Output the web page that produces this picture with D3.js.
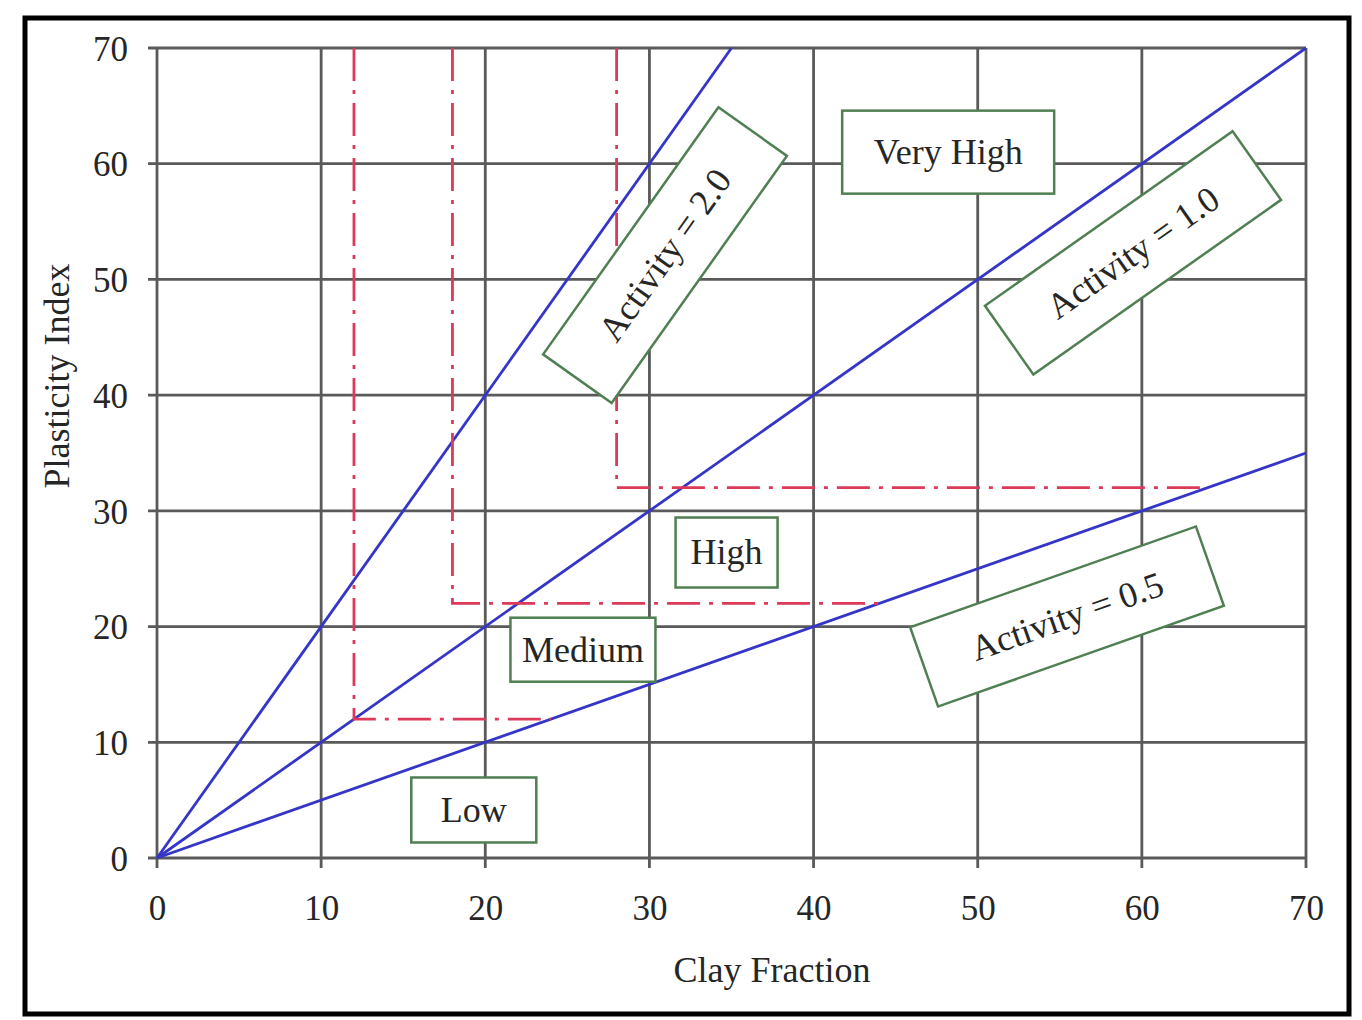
<!DOCTYPE html>
<html>
<head>
<meta charset="utf-8">
<script src="https://cdn.jsdelivr.net/npm/d3@7"></script>
<style>
  html, body { margin: 0; padding: 0; background: #fff; }
  svg { display: block; font-family: "Liberation Serif", "DejaVu Serif", serif; }
</style>
</head>
<body>
<div id="chart"></div>
<script>
// DATA
const xTicks = [0, 10, 20, 30, 40, 50, 60, 70]
const yTicks = [0, 10, 20, 30, 40, 50, 60, 70]
const activities = [2.0, 1.0, 0.5]
const activityNames = ["Activity = 2.0", "Activity = 1.0", "Activity = 0.5"]
// activity class boundaries (red dash-dot): vertical at x, turns at y, ends on A = 0.5 line
const boundX = [12, 18, 28]
const boundY = [12, 22, 32]
const boundEndX = [24, 44, 64]
const classNames = ["Low", "Medium", "High", "Very High"]

// LAYOUT (label anchors in data units, box sizes in px)
const classLabelAt = [[19.3, 4.15], [25.95, 18.0], [34.7, 26.4], [48.2, 61.0]]
const classBox = [[125, 65], [145, 64], [102, 70], [212, 83]]
const activityLabelAt = [[30.95, 52.1], [59.46, 52.3], [55.44, 20.87]]

const W = 1362, H = 1020
const x = d3.scaleLinear().domain([0, 70]).range([157, 1306])
const y = d3.scaleLinear().domain([0, 70]).range([858, 48])
const textColor = "#262626"

const svg = d3.select("#chart").append("svg")
    .attr("width", W)
    .attr("height", H)

// outer frame
svg.append("rect")
    .attr("x", 25).attr("y", 18)
    .attr("width", 1324).attr("height", 996)
    .attr("fill", "none")
    .attr("stroke", "#000")
    .attr("stroke-width", 5)

// grid
const grid = svg.append("g").attr("stroke", "#5a5a5a").attr("stroke-width", 2.8)
grid.selectAll("line.v").data(xTicks).join("line")
    .attr("class", "v")
    .attr("x1", d => x(d)).attr("x2", d => x(d))
    .attr("y1", y(0) + 10).attr("y2", y(70))
grid.selectAll("line.h").data(yTicks).join("line")
    .attr("class", "h")
    .attr("x1", x(0) - 9).attr("x2", x(70))
    .attr("y1", d => y(d)).attr("y2", d => y(d))

// axes (labels only, ticks are drawn with the grid)
const xAxis = svg.append("g")
    .attr("transform", `translate(0,${y(0)})`)
    .call(d3.axisBottom(x).tickValues(xTicks).tickSize(10).tickPadding(27))
const yAxis = svg.append("g")
    .attr("transform", `translate(${x(0)},0)`)
    .call(d3.axisLeft(y).tickValues(yTicks).tickSize(9).tickPadding(20))
for (const a of [xAxis, yAxis]) {
    a.select(".domain").remove()
    a.selectAll(".tick line").remove()
    a.selectAll("text")
        .attr("fill", textColor)
        .style("font-size", "35px")
        .style("font-family", "Liberation Serif")
}
yAxis.selectAll("text").attr("dy", "0.35em")

svg.append("text")
    .attr("x", 772).attr("y", 982)
    .attr("text-anchor", "middle")
    .attr("fill", textColor)
    .style("font-size", "36px")
    .text("Clay Fraction")
svg.append("text")
    .attr("transform", `translate(69,376) rotate(-90)`)
    .attr("text-anchor", "middle")
    .attr("fill", textColor)
    .style("font-size", "36px")
    .text("Plasticity Index")

// activity lines
const line = d3.line().x(d => x(d[0])).y(d => y(d[1]))
svg.append("g")
    .selectAll("path")
    .data(activities)
    .join("path")
    .attr("d", a => line([[0, 0], [Math.min(70, 70 / a), Math.min(70, 70 / a) * a]]))
    .attr("fill", "none")
    .attr("stroke", "#3535c8")
    .attr("stroke-width", 2.8)

// class boundaries
svg.append("g")
    .selectAll("path")
    .data(boundX.map((bx, i) => [[bx, 70], [bx, boundY[i]], [boundEndX[i], boundY[i]]]))
    .join("path")
    .attr("d", line)
    .attr("fill", "none")
    .attr("stroke", "#dc3a58")
    .attr("stroke-width", 2.8)
    .attr("stroke-dasharray", "33,9,4,9")

// boxed labels
function boxLabel(g, w, h, txt) {
    g.append("rect")
        .attr("x", -w / 2).attr("y", -h / 2)
        .attr("width", w).attr("height", h)
        .attr("fill", "#fff")
        .attr("stroke", "#4f7f52")
        .attr("stroke-width", 2.5)
    g.append("text")
        .attr("text-anchor", "middle")
        .attr("dy", "0.33em")
        .attr("fill", textColor)
        .style("font-size", "36px")
        .text(txt)
}

classNames.forEach((name, i) => {
    const g = svg.append("g")
        .attr("transform", `translate(${x(classLabelAt[i][0])},${y(classLabelAt[i][1])})`)
    boxLabel(g, classBox[i][0], classBox[i][1], name)
})

activities.forEach((a, i) => {
    // rotate along the line it names
    const ang = Math.atan2(y(a * 10) - y(0), x(10) - x(0)) * 180 / Math.PI
    const g = svg.append("g")
        .attr("transform", `translate(${x(activityLabelAt[i][0])},${y(activityLabelAt[i][1])}) rotate(${ang})`)
    boxLabel(g, 303, 84, activityNames[i])
})
</script>
</body>
</html>
